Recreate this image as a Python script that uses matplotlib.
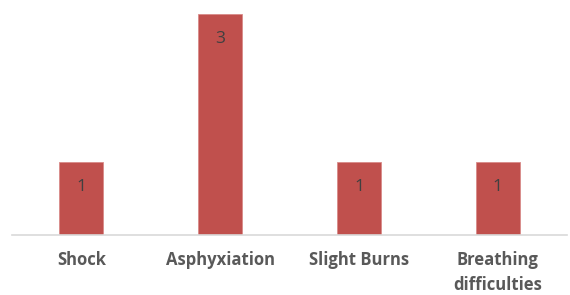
import numpy as np
import matplotlib.pyplot as plt

categories = ['Shock', 'Asphyxiation', 'Slight Burns', 'Breathing\ndifficulties']
counts = [1, 3, 1, 1]

plt.rcParams['font.family'] = ['Open Sans', 'DejaVu Sans']

fig = plt.figure(figsize=(5.7, 2.95), dpi=100)
ax = fig.add_axes([0.021, 0.2017, 0.974, 0.7519])

x = np.arange(len(categories))
bars = ax.bar(x, counts, width=0.317, color='#C0504D', edgecolor='#D98B89', linewidth=0.6)

# data labels inside the bar tops
for xi, v in zip(x, counts):
    ax.annotate(str(v), xy=(xi, v), xytext=(0, -18), textcoords='offset points',
                ha='center', va='center', fontsize=12.5, color='#404040')

ax.set_xlim(-0.5, len(categories) - 0.5)
ax.set_ylim(0, 3)
ax.set_xticks(x)
ax.set_xticklabels(categories, fontsize=12, fontweight='bold', color='#595959', linespacing=1.5)
ax.tick_params(axis='x', length=0, pad=11)
ax.set_yticks([])
for side in ['top', 'right', 'left']:
    ax.spines[side].set_visible(False)
ax.spines['bottom'].set_color('#D9D9D9')
ax.spines['bottom'].set_linewidth(1.2)

fig.savefig('out.png', dpi=100)
